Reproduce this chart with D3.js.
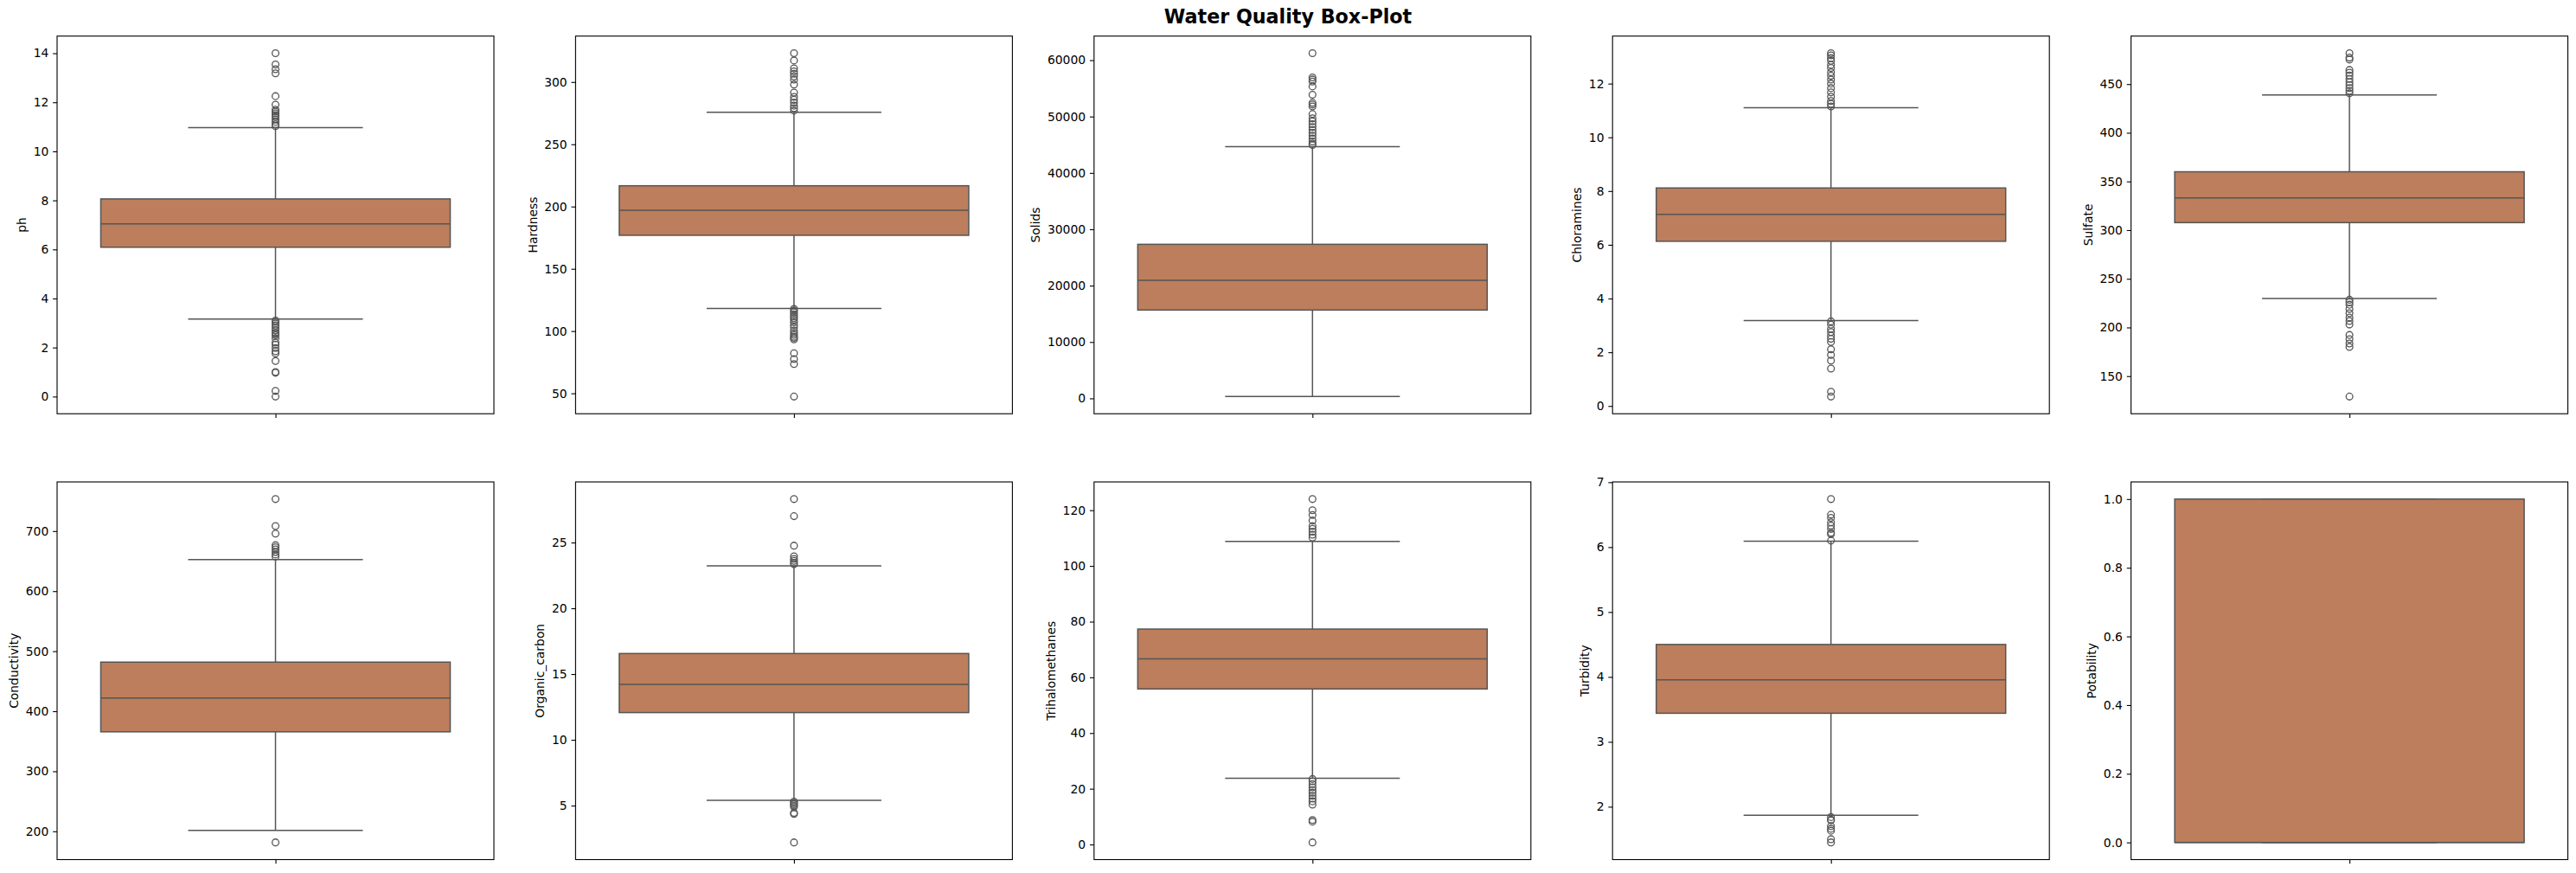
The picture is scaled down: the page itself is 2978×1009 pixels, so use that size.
<!DOCTYPE html>
<html>
<head>
<meta charset="utf-8">
<script src="https://cdn.jsdelivr.net/npm/d3@7/dist/d3.min.js"></script>
<style>
  html, body { margin: 0; padding: 0; background: #ffffff; }
  svg { display: block; }
  text { font-family: "DejaVu Sans", sans-serif; }
</style>
</head>
<body>
<svg id="chart"></svg>
<script>
// ---------------- DATA ----------------
const features = ["ph", "Hardness", "Solids", "Chloramines", "Sulfate",
                  "Conductivity", "Organic_carbon", "Trihalomethanes", "Turbidity", "Potability"];

const q1Values      = [6.09, 176.9, 15667, 6.13, 307.7, 365.7, 12.07, 55.84, 3.44, 0];
const medianValues  = [7.04, 197.0, 20927, 7.13, 333.1, 421.9, 14.22, 66.62, 3.955, 0];
const q3Values      = [8.06, 216.7, 27333, 8.115, 359.95, 481.8, 16.56, 77.34, 4.50, 1];
const whiskerLow    = [3.16, 118.2, 320, 3.18, 229.8, 201.6, 5.40, 23.8, 1.87, 0];
const whiskerHigh   = [10.97, 275.7, 44650, 11.10, 438.8, 652.5, 23.23, 108.8, 6.09, 1];

const phFliers = [14.0, 13.54, 13.35, 13.18, 12.25, 11.9, 11.7, 11.62, 11.55, 11.48, 11.4, 11.3, 11.2, 11.1, 11.03,
                  3.1, 3.05, 2.98, 2.9, 2.8, 2.7, 2.6, 2.55, 2.5, 2.38, 2.2, 2.12, 1.98, 1.85, 1.76, 1.45, 1.0, 0.97, 0.23, 0.0];
const hardnessFliers = [323.1, 317.3, 311.0, 308.5, 306.6, 304.5, 302.0, 298.0, 291.5, 288.0, 285.7, 283.5, 281.0, 279.0, 277.0,
                  117.8, 116.5, 115, 113.5, 112, 110.5, 109, 107, 105, 103, 100.5, 98.5, 97, 95.5, 94.5, 93.3, 82.2, 77.5, 73.5, 47.4];
const solidsFliers = [61227, 56930, 56570, 56215, 55340, 53860, 52430, 52120, 51800, 50435, 49670, 49160, 48650, 48130,
                  47620, 47110, 46600, 46090, 45580, 45200, 44950];
const chloraminesFliers = [13.13, 13.05, 12.95, 12.85, 12.7, 12.58, 12.42, 12.29, 12.15, 12.0, 11.83, 11.67, 11.51, 11.35, 11.25, 11.15,
                  3.15, 3.03, 2.87, 2.75, 2.62, 2.5, 2.38, 2.11, 1.9, 1.69, 1.39, 0.53, 0.35];
const sulfateFliers = [481.7, 477.2, 475.2, 464.5, 461.8, 458.9, 455.3, 452, 449, 446, 443, 440.5,
                  228.5, 226, 223.4, 219, 214.6, 210.1, 206.6, 203, 192.3, 187.9, 183.5, 180, 129];
const conductivityFliers = [753.3, 708.5, 695.9, 676.5, 673, 669.5, 665, 661, 657.5, 181.5];
const organicCarbonFliers = [28.3, 27.0, 24.76, 23.95, 23.75, 23.6, 23.45, 23.35,
                  5.3, 5.2, 5.1, 5.0, 4.9, 4.45, 4.37, 2.2];
const trihalomethanesFliers = [124.0, 120.0, 118.3, 116.3, 114.3, 113.3, 112.3, 111.2, 110.2,
                  23.5, 22.7, 21.7, 20.5, 19.5, 18.6, 17.5, 16.5, 15.5, 14.3, 8.8, 8.2, 0.74];
const turbidityFliers = [6.74, 6.5, 6.45, 6.38, 6.33, 6.28, 6.22, 6.2, 6.1,
                  1.84, 1.8, 1.79, 1.7, 1.66, 1.63, 1.5, 1.45];
const potabilityFliers = [];

const phTicks = [0, 2, 4, 6, 8, 10, 12, 14];
const hardnessTicks = [50, 100, 150, 200, 250, 300];
const solidsTicks = [0, 10000, 20000, 30000, 40000, 50000, 60000];
const chloraminesTicks = [0, 2, 4, 6, 8, 10, 12];
const sulfateTicks = [150, 200, 250, 300, 350, 400, 450];
const conductivityTicks = [200, 300, 400, 500, 600, 700];
const organicCarbonTicks = [5, 10, 15, 20, 25];
const trihalomethanesTicks = [0, 20, 40, 60, 80, 100, 120];
const turbidityTicks = [2, 3, 4, 5, 6, 7];
const potabilityTicks = [0.0, 0.2, 0.4, 0.6, 0.8, 1.0];

const chartTitle = "Water Quality Box-Plot";

const fliers = [phFliers, hardnessFliers, solidsFliers, chloraminesFliers, sulfateFliers,
                conductivityFliers, organicCarbonFliers, trihalomethanesFliers, turbidityFliers, potabilityFliers];
const ticks = [phTicks, hardnessTicks, solidsTicks, chloraminesTicks, sulfateTicks,
               conductivityTicks, organicCarbonTicks, trihalomethanesTicks, turbidityTicks, potabilityTicks];
const tickFormats = features.map(f => f === "Potability" ? d3.format(".1f") : d3.format("d"));

// ---------------- LAYOUT ----------------
const W = 2978, H = 1009;
const colLeft0 = 66, colStep = 599.4, axW = 505;
const rowTops = [41.7, 557];
const axH = 436.5;
const PT = 100 / 72;           // px per point
const tickLen = 3.5 * PT, tickPad = 3.5 * PT, labelPad = 4 * PT;
const fontSize = 10 * PT;
const boxFill = "#bc7e5c";
const lineColor = "#555555";
const lw = 1.5;

const svg = d3.select("#chart").attr("width", W).attr("height", H)
  .style("background", "#ffffff");

svg.append("text")
  .attr("x", W / 2).attr("y", 18.5)
  .attr("text-anchor", "middle")
  .attr("dominant-baseline", "central")
  .attr("font-size", 16 * PT)
  .attr("font-weight", "bold")
  .attr("fill", "#000")
  .text(chartTitle);

features.forEach((feat, i) => {
  const row = Math.floor(i / 5), col = i % 5;
  const left = colLeft0 + col * colStep, top = rowTops[row];
  const g = svg.append("g").attr("transform", `translate(${left},${top})`);

  const allVals = fliers[i].concat([whiskerLow[i], whiskerHigh[i], q1Values[i], q3Values[i]]);
  const vmin = d3.min(allVals), vmax = d3.max(allVals);
  const pad = (vmax - vmin) * 0.05;
  const y = d3.scaleLinear().domain([vmin - pad, vmax + pad]).range([axH, 0]);
  const x = d3.scaleLinear().domain([-0.5, 0.5]).range([0, axW]);

  // whiskers
  g.append("line").attr("x1", x(0)).attr("x2", x(0))
    .attr("y1", y(q3Values[i])).attr("y2", y(whiskerHigh[i]))
    .attr("stroke", lineColor).attr("stroke-width", lw);
  g.append("line").attr("x1", x(0)).attr("x2", x(0))
    .attr("y1", y(q1Values[i])).attr("y2", y(whiskerLow[i]))
    .attr("stroke", lineColor).attr("stroke-width", lw);
  // caps
  [whiskerLow[i], whiskerHigh[i]].forEach(v => {
    g.append("line").attr("x1", x(-0.2)).attr("x2", x(0.2))
      .attr("y1", y(v)).attr("y2", y(v))
      .attr("stroke", lineColor).attr("stroke-width", lw);
  });
  // box
  g.append("rect")
    .attr("x", x(-0.4)).attr("width", x(0.4) - x(-0.4))
    .attr("y", y(q3Values[i])).attr("height", y(q1Values[i]) - y(q3Values[i]))
    .attr("fill", boxFill).attr("stroke", lineColor).attr("stroke-width", lw);
  // median
  g.append("line").attr("x1", x(-0.4)).attr("x2", x(0.4))
    .attr("y1", y(medianValues[i])).attr("y2", y(medianValues[i]))
    .attr("stroke", lineColor).attr("stroke-width", lw);
  // fliers
  g.selectAll("circle.flier").data(fliers[i]).enter().append("circle")
    .attr("class", "flier")
    .attr("cx", x(0)).attr("cy", d => y(d)).attr("r", 3.9)
    .attr("fill", "none").attr("stroke", lineColor).attr("stroke-width", 1.3);

  // y axis
  const yAxis = d3.axisLeft(y).tickValues(ticks[i]).tickFormat(tickFormats[i])
    .tickSize(tickLen).tickPadding(tickPad);
  const ga = g.append("g").call(yAxis);
  ga.select(".domain").remove();
  ga.selectAll(".tick line").attr("stroke", "#000").attr("stroke-width", 0.8 * PT);
  ga.selectAll(".tick text").attr("font-size", fontSize).attr("fill", "#000")
    .attr("font-family", "DejaVu Sans, sans-serif");

  // x axis single tick
  const xAxis = d3.axisBottom(x).tickValues([0]).tickFormat("").tickSize(tickLen);
  const gx = g.append("g").attr("transform", `translate(0,${axH})`).call(xAxis);
  gx.select(".domain").remove();
  gx.selectAll(".tick line").attr("stroke", "#000").attr("stroke-width", 0.8 * PT);

  // frame
  g.append("rect").attr("x", 0).attr("y", 0).attr("width", axW).attr("height", axH)
    .attr("fill", "none").attr("stroke", "#000").attr("stroke-width", 0.8 * PT);

  // y label
  let maxW = 0;
  ga.selectAll(".tick text").each(function () {
    maxW = Math.max(maxW, this.getComputedTextLength());
  });
  const lx = -(tickLen + tickPad + maxW + labelPad + fontSize * 0.58);
  g.append("text")
    .attr("transform", `translate(${lx},${axH / 2}) rotate(-90)`)
    .attr("text-anchor", "middle")
    .attr("dominant-baseline", "central")
    .attr("font-size", fontSize)
    .attr("fill", "#000")
    .text(feat);
});
</script>
</body>
</html>
